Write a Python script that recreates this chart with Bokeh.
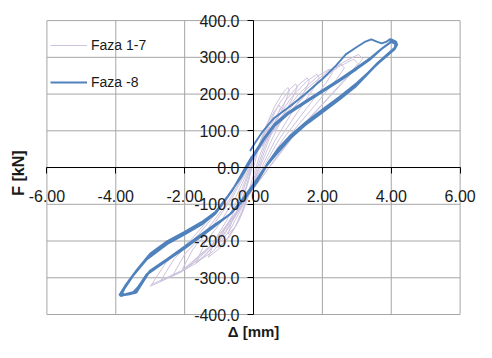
import math
from bokeh.plotting import figure
from bokeh.models import (Range1d, FixedTicker, NumeralTickFormatter, Legend,
                          LegendItem, Label)
from bokeh.embed import file_html
from bokeh.resources import INLINE

# ---------------- data ----------------
x_ticks = [-6, -4, -2, 0, 2, 4, 6]
y_ticks = [-400, -300, -200, -100, 0, 100, 200, 300, 400]

# Faza 1-7 (thin lavender loops)
faza17_x = [0.0,
    0.14, 0.27, 0.38, 0.45, 0.47, 0.43, 0.32, 0.18, 0.07, -0.05, -0.18, -0.32, -0.45,
    -0.38, -0.27, -0.14, 0.0, 0.23, 0.45, 0.64, 0.75, 0.78, 0.71, 0.53, 0.30, 0.11, -0.07, -0.30, -0.52, -0.74,
    -0.63, -0.44, -0.22, 0.0, 0.30, 0.60, 0.85, 1.00, 1.04, 0.95, 0.70, 0.40, 0.15, -0.10, -0.41, -0.72, -1.03,
    -0.88, -0.62, -0.31, 0.0, 0.37, 0.73, 1.04, 1.22, 1.27, 1.16, 0.85, 0.49, 0.18, -0.13, -0.52, -0.92, -1.31,
    -1.11, -0.79, -0.39, 0.0, 0.47, 0.94, 1.33, 1.56, 1.62, 1.48, 1.09, 0.62, 0.23, -0.17, -0.67, -1.17, -1.67,
    -1.42, -1.00, -0.50, 0.0, 0.55, 1.10, 1.56, 1.84, 1.91, 1.75, 1.29, 0.74, 0.28, -0.21, -0.83, -1.45, -2.07,
    -1.76, -1.24, -0.62, 0.0, 0.66, 1.32, 1.87, 2.20, 2.29, 2.09, 1.54, 0.88, 0.33, -0.24, -0.94, -1.65, -2.35,
    -2.00, -1.41, -0.71, 0.0, 0.76, 1.52, 2.16, 2.54, 2.64, 2.41, 1.78, 1.02, 0.38, -0.27, -1.08, -1.90, -2.71,
    -2.30, -1.63, -0.81, 0.0, 0.87, 1.75, 2.47, 2.91, 3.03, 2.76, 2.04, 1.16, 0.44, -0.30, -1.20, -2.09, -2.99,
    -2.54, -1.79, -0.90, 0.0, 0.92, 1.83, 2.59, 3.05, 3.17, 2.90, 2.14, 1.22, 0.46, -0.30, -1.18, -2.07, -2.95]
faza17_y = [0,
    50, 83, 102, 110, 106, 94, 66, 33, 0, -36, -78, -106, -120,
    -96, -72, -36, 17, 77, 128, 158, 170, 163, 145, 102, 51, 0, -55, -118, -160, -182,
    -146, -109, -55, 22, 98, 164, 203, 218, 209, 185, 131, 65, 0, -65, -142, -192, -218,
    -174, -131, -65, 23, 103, 171, 212, 228, 219, 194, 137, 68, 0, -73, -159, -215, -244,
    -195, -146, -73, 24, 110, 183, 227, 244, 234, 207, 146, 73, 0, -78, -168, -228, -259,
    -207, -155, -78, 25, 114, 191, 236, 254, 244, 216, 152, 76, 0, -83, -180, -244, -277,
    -222, -166, -83, 27, 121, 201, 249, 268, 257, 228, 161, 80, 0, -89, -192, -260, -295,
    -236, -177, -89, 28, 127, 212, 262, 282, 271, 240, 169, 85, 0, -93, -202, -273, -310,
    -248, -186, -93, 30, 133, 221, 274, 295, 283, 251, 177, 89, 0, -97, -210, -284, -323,
    -258, -194, -97, 31, 139, 231, 286, 308, 296, 262, 185, 92, 0, -95, -207, -280, -318]

# Faza -8 (blue loops)
faza8_x = [-0.10, 0.05, 0.24, 0.60, 1.08, 1.50, 2.00, 2.40, 2.68, 3.00, 3.25, 3.42, 3.58, 3.72, 3.85, 3.97, 4.05,
    4.12, 4.10, 3.95, 3.60, 2.96, 2.50, 2.00, 1.50, 1.08, 0.70, 0.33, 0.00, -0.35, -0.69, -1.20, -2.00, -2.50, -3.05, -3.30, -3.40, -3.60, -3.88,
    -3.85, -3.70, -3.40, -3.05, -2.50, -2.00, -1.60, -1.17, -0.80, -0.41, -0.24, 0.00, 0.30, 0.60, 1.00, 1.50, 2.00, 2.50, 3.00, 3.42, 3.70, 3.95, 4.02,
    4.15, 4.15, 4.00, 3.60, 3.00, 2.50, 2.00, 1.50, 1.08, 0.70, 0.40, 0.10, -0.25, -0.65, -1.20, -2.00, -2.50, -3.00, -3.30, -3.45, -3.70, -3.90,
    -3.80, -3.60, -3.30, -3.00, -2.50, -2.00, -1.50, -1.10, -0.70, -0.35, 0.00, 0.30, 0.60, 1.00, 1.50, 2.00, 2.50, 3.00, 3.40, 3.75, 4.00, 4.08,
    4.18, 4.10, 3.70, 3.00, 2.50, 2.00, 1.50, 1.08, 0.70, 0.40, 0.10, -0.30, -0.70, -1.20, -2.00, -2.60, -3.10, -3.35, -3.50, -3.85,
    -3.75, -3.50, -3.10, -2.50, -2.00, -1.50, -1.10, -0.60, -0.30, -0.05]
faza8_y = [45, 68, 95, 135, 168, 200, 241, 278, 308, 328, 343, 349, 343, 338, 342, 350, 346,
    338, 325, 310, 282, 220, 185, 150, 115, 80, 40, 0, -45, -90, -128, -165, -220, -252, -288, -325, -340, -345, -349,
    -340, -318, -280, -240, -205, -179, -155, -128, -85, -33, -5, 36, 80, 118, 150, 180, 210, 240, 272, 300, 322, 340, 348,
    342, 330, 318, 285, 226, 190, 155, 120, 86, 48, 8, -40, -85, -125, -160, -215, -248, -280, -318, -338, -344, -347,
    -335, -305, -268, -234, -200, -175, -148, -120, -72, -25, 30, 75, 112, 145, 176, 206, 236, 268, 295, 325, 342, 338,
    336, 322, 290, 230, 193, 158, 122, 88, 50, 10, -38, -88, -128, -162, -218, -258, -290, -325, -340, -350,
    -330, -295, -250, -208, -182, -155, -125, -60, -10, 30]

series_names = ["Faza 1-7", "Faza -8"]
x_title = "Δ [mm]"
y_title = "F [kN]"

# ---------------- figure ----------------
W, H = 476, 342
p = figure(width=W, height=H, output_backend="svg", toolbar_location=None,
           x_range=Range1d(-7.348, 6.476), y_range=Range1d(-476.2, 454.7),
           min_border=0, min_border_left=0, min_border_right=0,
           min_border_top=0, min_border_bottom=0)
p.outline_line_color = None
p.xgrid.visible = False
p.ygrid.visible = False
p.background_fill_color = "white"
p.border_fill_color = "white"

grid_col = "#A6A6A6"
xmin, xmax = min(x_ticks), max(x_ticks)
ymin, ymax = min(y_ticks), max(y_ticks)
p.segment(x0=x_ticks, y0=[ymin] * len(x_ticks), x1=x_ticks, y1=[ymax] * len(x_ticks),
          line_color=grid_col, line_width=1)
p.segment(x0=[xmin] * len(y_ticks), y0=y_ticks, x1=[xmax] * len(y_ticks), y1=y_ticks,
          line_color=grid_col, line_width=1)

text_col = "#1a1a1a"
font = "Liberation Sans"

for ax, ticks, fmt, bnds in ((p.xaxis[0], x_ticks, "0.00", (xmin, xmax)),
                              (p.yaxis[0], y_ticks, "0.0", (ymin, ymax))):
    ax.fixed_location = 0
    ax.bounds = bnds
    ax.ticker = FixedTicker(ticks=ticks)
    ax.formatter = NumeralTickFormatter(format=fmt)
    ax.axis_line_color = "black"
    ax.axis_line_width = 1
    ax.major_tick_line_color = "black"
    ax.major_tick_out = 6
    ax.major_tick_in = 0
    ax.minor_tick_out = 0
    ax.minor_tick_in = 0
    ax.major_label_text_font = font
    ax.major_label_text_font_size = "16px"
    ax.major_label_text_color = text_col
p.xaxis.major_label_standoff = 16
p.yaxis.major_label_standoff = 8

r1 = p.line(faza17_x, faza17_y, line_color="#CDC3DD", line_width=1)
r2 = p.line(faza8_x, faza8_y, line_color="#4F81BD", line_width=1.9)

legend = Legend(items=[LegendItem(label=series_names[0], renderers=[r1]),
                       LegendItem(label=series_names[1], renderers=[r2])],
                location=(50, 250))
legend.background_fill_alpha = 0
legend.border_line_alpha = 0
legend.padding = 0
legend.margin = 0
legend.spacing = 17
legend.glyph_width = 37
legend.glyph_height = 20
legend.label_height = 20
legend.label_standoff = 4
legend.label_text_font = font
legend.label_text_font_size = "14px"
legend.label_text_color = text_col
p.add_layout(legend)

p.add_layout(Label(x=-6.828, y=-15.0, text=y_title, angle=math.pi / 2,
                   text_align="center", text_baseline="middle",
                   text_font=font, text_font_size="16px", text_font_style="bold",
                   text_color=text_col))
p.add_layout(Label(x=0.0, y=-446.3, text=x_title,
                   text_align="center", text_baseline="alphabetic",
                   text_font=font, text_font_size="15px", text_font_style="bold",
                   text_color=text_col))

open("out.html", "w").write(file_html(p, INLINE))
